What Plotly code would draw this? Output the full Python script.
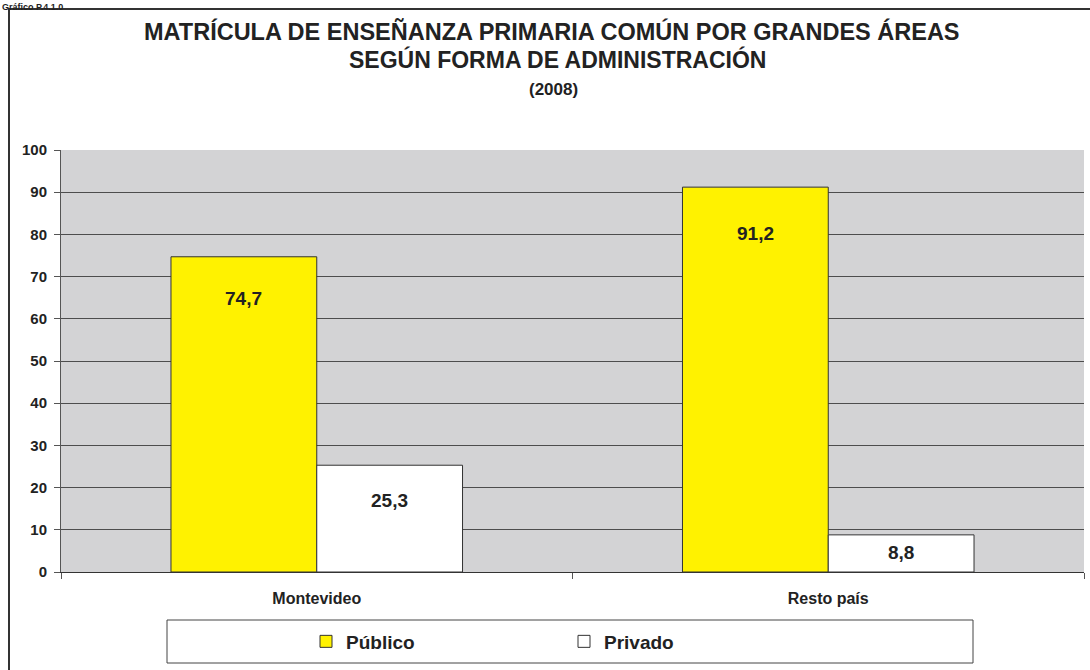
import plotly.graph_objects as go

categories = ["Montevideo", "Resto país"]
publico = [74.7, 91.2]
privado = [25.3, 8.8]
series_names = ["Público", "Privado"]
y_ticks = [0, 10, 20, 30, 40, 50, 60, 70, 80, 90, 100]

title_l1 = "MATRÍCULA DE ENSEÑANZA PRIMARIA COMÚN POR GRANDES ÁREAS"
title_l2 = "SEGÚN FORMA DE ADMINISTRACIÓN"
title_l3 = "(2008)"
header = "Gráfico P.4.1.0"

W, H = 1090, 670
L, R, T, B = 61, 6, 150, 98
PW, PH = W - L - R, H - T - B

def px_x(p):
    return (p - L) / PW

def px_y(p):
    return (H - B - p) / PH

FONT = "Liberation Sans, Arial, sans-serif"
BARGAP = 0.43
bar_w = (1 - BARGAP) / 2

fig = go.Figure()
fig.add_trace(go.Bar(x=categories, y=publico, name=series_names[0],
                     marker=dict(color="#fff200", line=dict(color="#333333", width=1)),
                     legend="legend"))
fig.add_trace(go.Bar(x=categories, y=privado, name=series_names[1],
                     marker=dict(color="#ffffff", line=dict(color="#333333", width=1)),
                     legend="legend2"))

fmt = lambda v: f"{v:.1f}".replace(".", ",")
label_shift = [[-42, -46], [-35, -18]]
annotations = []
for si, (vals, off) in enumerate([(publico, -bar_w / 2), (privado, bar_w / 2)]):
    for ci, v in enumerate(vals):
        annotations.append(dict(x=ci + off, y=v, xref="x", yref="y", text=f"<b>{fmt(v)}</b>",
                                showarrow=False, yshift=label_shift[si][ci], yanchor="middle",
                                font=dict(family=FONT, size=19, color="#222222")))

annotations += [
    dict(x=px_x(552), y=px_y(31), xref="paper", yref="paper", text=f"<b>{title_l1}</b>",
         showarrow=False, yanchor="middle", font=dict(family=FONT, size=23.5, color="#222222")),
    dict(x=px_x(557), y=px_y(59), xref="paper", yref="paper", text=f"<b>{title_l2}</b>",
         showarrow=False, yanchor="middle", font=dict(family=FONT, size=23, color="#222222")),
    dict(x=px_x(553), y=px_y(89), xref="paper", yref="paper", text=f"<b>{title_l3}</b>",
         showarrow=False, yanchor="middle", font=dict(family=FONT, size=17, color="#222222")),
    dict(x=px_x(0), y=px_y(0), xref="paper", yref="paper", text=f"<b>{header}</b>",
         showarrow=False, xanchor="left", yanchor="top",
         font=dict(family=FONT, size=9, color="#222222")),
]

shapes = [
    dict(type="rect", xref="paper", yref="paper", x0=px_x(9), y0=px_y(700), x1=px_x(1100), y1=px_y(9),
         line=dict(color="#333333", width=2), fillcolor="rgba(0,0,0,0)", layer="below"),
    dict(type="rect", xref="paper", yref="paper", x0=px_x(167), y0=px_y(663), x1=px_x(973), y1=px_y(620),
         line=dict(color="#444444", width=1), fillcolor="rgba(0,0,0,0)"),
]

legend_common = dict(orientation="h", yanchor="middle", xanchor="left",
                     font=dict(family=FONT, size=19, color="#222222", weight="bold"),
                     bgcolor="rgba(0,0,0,0)", itemwidth=30)

fig.update_layout(
    width=W, height=H,
    margin=dict(l=L, r=R, t=T, b=B),
    paper_bgcolor="white",
    plot_bgcolor="#d3d3d5",
    barmode="group", bargap=BARGAP, bargroupgap=0,
    showlegend=True,
    legend=dict(x=px_x(306), y=px_y(641.5), **legend_common),
    legend2=dict(x=px_x(564), y=px_y(641.5), **legend_common),
    annotations=annotations,
    shapes=shapes,
    xaxis=dict(type="category", tickson="boundaries", ticks="outside", ticklen=6,
               tickcolor="#555555", showline=True, linecolor="#333333", linewidth=1,
               showgrid=False, ticklabelstandoff=12,
               tickfont=dict(family=FONT, size=16, color="#222222", weight="bold")),
    yaxis=dict(range=[0, 100], tickvals=y_ticks, ticks="outside", ticklen=6,
               tickcolor="#555555", showline=True, linecolor="#555555", linewidth=1,
               gridcolor="#4d4d4d", gridwidth=1, zeroline=False, ticklabelstandoff=4,
               tickfont=dict(family=FONT, size=15, color="#222222", weight="bold")),
)

fig.write_html("out.html", config={"displayModeBar": False},
               post_script="document.body.style.margin='0';document.body.style.overflow='hidden';")
